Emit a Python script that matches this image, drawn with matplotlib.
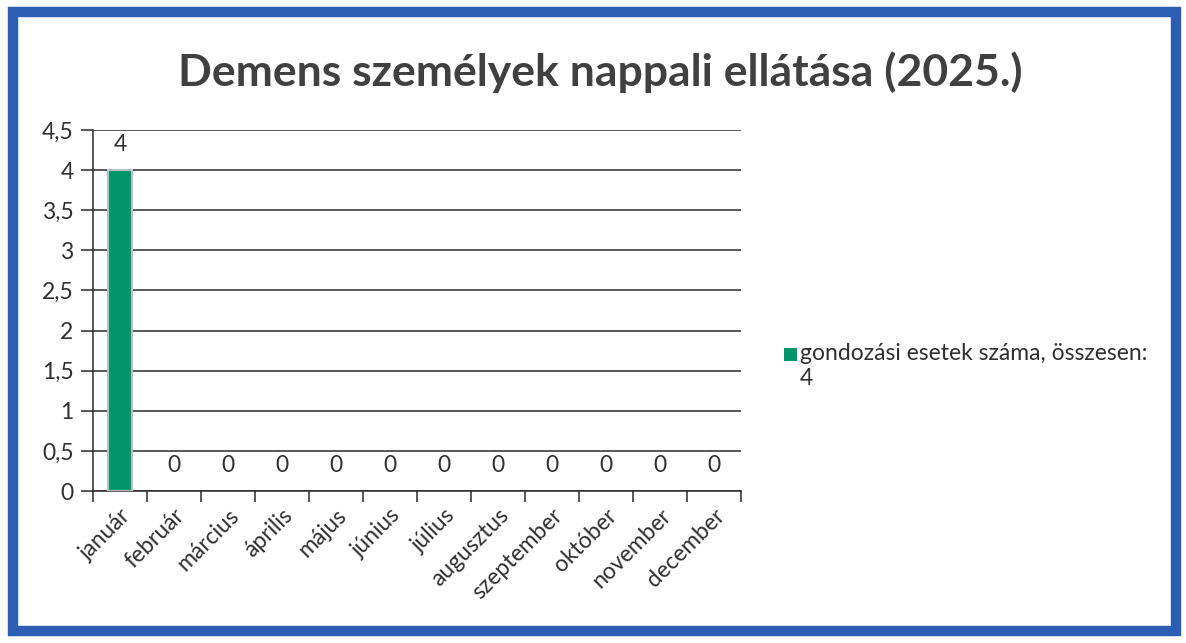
import matplotlib
matplotlib.use("Agg")
import matplotlib.pyplot as plt
from matplotlib.patches import Rectangle

plt.rcParams['font.family'] = ['Lato', 'DejaVu Sans']

months = ["január", "február", "március", "április", "május", "június",
          "július", "augusztus", "szeptember", "október", "november", "december"]
values = [4, 0, 0, 0, 0, 0, 0, 0, 0, 0, 0, 0]
series_name = "gondozási esetek száma, összesen:\n4"
title = "Demens személyek nappali ellátása (2025.)"
yticks = [0, 0.5, 1, 1.5, 2, 2.5, 3, 3.5, 4, 4.5]
ytick_labels = ["0", "0,5", "1", "1,5", "2", "2,5", "3", "3,5", "4", "4,5"]

W, H = 1186, 643
FS = 16.5
fig = plt.figure(figsize=(W / 100, H / 100), dpi=100)
fig.patch.set_facecolor("white")

# blue frame
fig.patches.append(Rectangle((13 / W, 12 / H), (1176 - 13) / W, (631 - 12) / H,
                             transform=fig.transFigure, fill=False,
                             edgecolor="#2c5fb3", linewidth=7.5))

ax = fig.add_axes([93 / W, 1 - 491 / H, (741 - 93) / W, (491 - 130) / H])
x = list(range(len(months)))
edges = ["#b9c2c0" if v > 0 else "none" for v in values]
ax.bar(x, values, width=0.44, color="#00966a", edgecolor=edges,
       linewidth=1.5, zorder=3, label=series_name)

ax.set_xlim(-0.5, len(months) - 0.5)
ax.set_ylim(0, 4.5)
ax.set_yticks(yticks)
ax.set_yticklabels(ytick_labels, fontsize=FS, color="#303030")
ax.yaxis.grid(True, color="#2a2a2a", linewidth=1.1, zorder=0)
ax.tick_params(axis="y", length=9, width=1.1, color="#2a2a2a", pad=5)

ax.set_xticks([i - 0.5 for i in range(len(months) + 1)], minor=False)
ax.set_xticklabels([""] * (len(months) + 1))
ax.tick_params(axis="x", length=8, width=1.1, color="#2a2a2a")
ax.set_xticks(x, minor=True)
ax.set_xticklabels(months, minor=True, rotation=45, ha="right",
                   rotation_mode="anchor", fontsize=FS, color="#303030")
ax.tick_params(axis="x", which="minor", length=0, pad=10)

for s in ["top", "right"]:
    ax.spines[s].set_visible(False)
ax.spines["left"].set_color("#2a2a2a")
ax.spines["bottom"].set_color("#2a2a2a")
ax.spines["left"].set_linewidth(1.1)
ax.spines["bottom"].set_linewidth(1.1)

for xi, v in zip(x, values):
    ax.annotate(str(v), (xi, v), xytext=(0, 18.5), textcoords="offset points",
                ha="center", va="center", fontsize=FS, color="#303030")

fig.text(600 / W, 1 - 72 / H, title, ha="center", va="center",
         fontsize=32, fontweight="bold", color="#404040")

# legend
fig.patches.append(Rectangle((784 / W, 1 - 361 / H), 13 / W, 13 / H,
                             transform=fig.transFigure, facecolor="#00966a",
                             edgecolor="none"))
fig.text(800 / W, 1 - 343 / H, series_name, ha="left", va="top",
         fontsize=FS, color="#303030", linespacing=1.25)

fig.savefig("out.png", dpi=100, facecolor="white")
